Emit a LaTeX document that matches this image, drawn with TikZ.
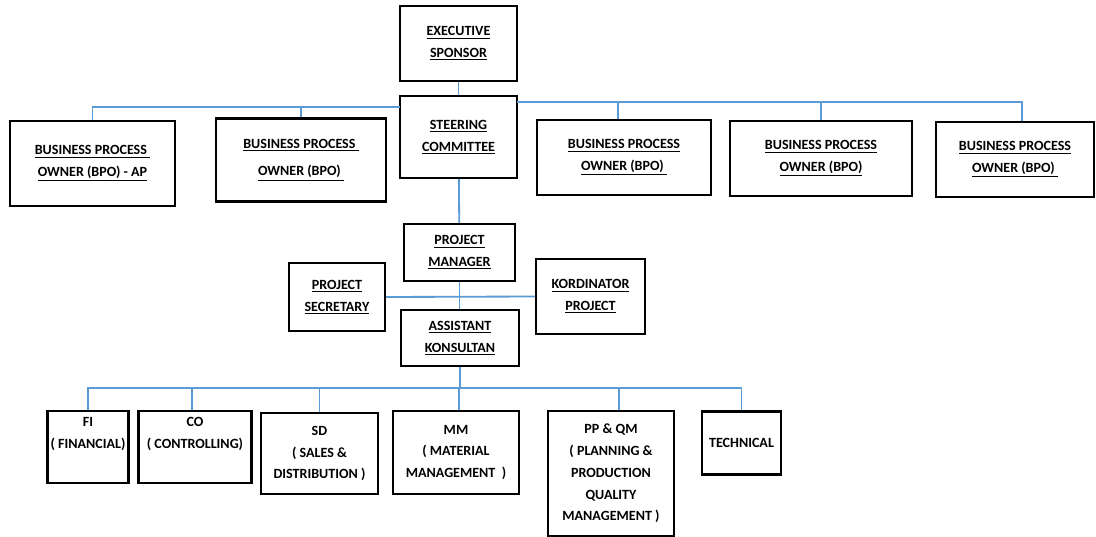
\documentclass[tikz,border=0pt]{standalone}
\usepackage{fontspec}
\setmainfont{Carlito}
\usepackage{tikz}

\newcommand{\ul}[1]{\underline{#1}}

\tikzset{
  orgbox/.style={draw=black, line width=1.5pt, fill=white, inner sep=1pt,
    align=center, font=\fontsize{10}{15.5}\selectfont\bfseries},
  boxsize/.style 2 args={minimum width=#1*0.025cm, minimum height=#2*0.025cm},
  link/.style={line width=1.3pt, draw=lineblue}
}
\definecolor{lineblue}{RGB}{91,155,213}

\begin{document}
\begin{tikzpicture}[x=0.025cm, y=-0.025cm]

\useasboundingbox (0,0) rectangle (1096,537);

% top level
\node[orgbox, boxsize={117}{75}] (exec) at (458.5,43.5) {\ul{EXECUTIVE}\\\ul{SPONSOR}};
\node[orgbox, boxsize={117}{82}] (steer) at (458.5,137) {\ul{STEERING}\\\ul{COMMITTEE}};

% business process owners
\node[orgbox, boxsize={165}{85}] (bpoA) at (92.5,163.5) {\ul{BUSINESS PROCESS }\\\ul{OWNER (BPO) - AP}};
\node[orgbox, boxsize={170}{83}] (bpoB) at (301,160) {\ul{BUSINESS PROCESS }\\[4pt]\ul{OWNER (BPO) }};
\node[orgbox, boxsize={174}{75}] (bpoC) at (624,157.5) {\ul{BUSINESS PROCESS}\\\ul{OWNER (BPO) }};
\node[orgbox, boxsize={182}{75}] (bpoD) at (821,158.5) {\ul{BUSINESS PROCESS}\\\ul{OWNER (BPO)}};
\node[orgbox, boxsize={158}{75}] (bpoE) at (1015,159.5) {\ul{BUSINESS PROCESS}\\\ul{OWNER (BPO) }};

% project team
\node[orgbox, boxsize={111}{57}] (pm) at (459.5,252.5) {\ul{PROJECT}\\\ul{MANAGER}};
\node[orgbox, boxsize={96}{68}] (sec) at (337,297) {\ul{PROJECT}\\\ul{SECRETARY}};
\node[orgbox, boxsize={109}{75}] (kord) at (590.5,296.5) {\ul{KORDINATOR}\\\ul{PROJECT}};
\node[orgbox, boxsize={118}{56}] (asst) at (460,338) {\ul{ASSISTANT}\\\ul{KONSULTAN}};

% modules
\node[orgbox, boxsize={81}{72}] (fi) at (88,447) {FI\\( FINANCIAL)\\\strut};
\node[orgbox, boxsize={113}{72}] (co) at (195,447) {CO\\( CONTROLLING)\\\strut};
\node[orgbox, boxsize={117}{81}] (sd) at (319.5,453.5) {SD\\( SALES \&\\DISTRIBUTION )};
\node[orgbox, boxsize={126}{83}] (mm) at (456,452.5) {MM\\( MATERIAL\\MANAGEMENT\ \ )};
\node[orgbox, boxsize={126}{125}] (ppqm) at (611,473.5) {PP \& QM\\( PLANNING \&\\PRODUCTION\\QUALITY\\MANAGEMENT\ )};
\node[orgbox, boxsize={79}{63}] (tech) at (741.5,443) {TECHNICAL};

% connectors
\coordinate (busL) at (400,107);
\coordinate (busR) at (517,102);
\coordinate (busB) at (459,388);

\draw[link] (exec) -- (steer);
\draw[link] (steer) -- (pm);

\draw[link] (bpoA.north) |- (busL);
\draw[link] (bpoB.north) -- (bpoB.north |- busL);
\draw[link] (busR) -| ([xshift=0.175cm]bpoE.north);
\draw[link] ([xshift=-0.15cm]bpoC.north) -- ([xshift=-0.15cm]bpoC.north |- busR);
\draw[link] (bpoD.north) -- (bpoD.north |- busR);

\draw[link] (sec.east) -- (kord.west);
\draw[link] (pm.south) -- (pm.south |- asst.north);

\draw[link] (asst.south) -- (asst.south |- busB);
\draw[link] (fi.north) |- (busB) -| (tech.north);
\draw[link] ([xshift=-0.075cm]co.north) -- ([xshift=-0.075cm]co.north |- busB);
\draw[link] (sd.north) -- (sd.north |- busB);
\draw[link] ([xshift=0.075cm]mm.north) -- ([xshift=0.075cm]mm.north |- busB);
\draw[link] ([xshift=0.2cm]ppqm.north) -- ([xshift=0.2cm]ppqm.north |- busB);

\end{tikzpicture}
\end{document}
